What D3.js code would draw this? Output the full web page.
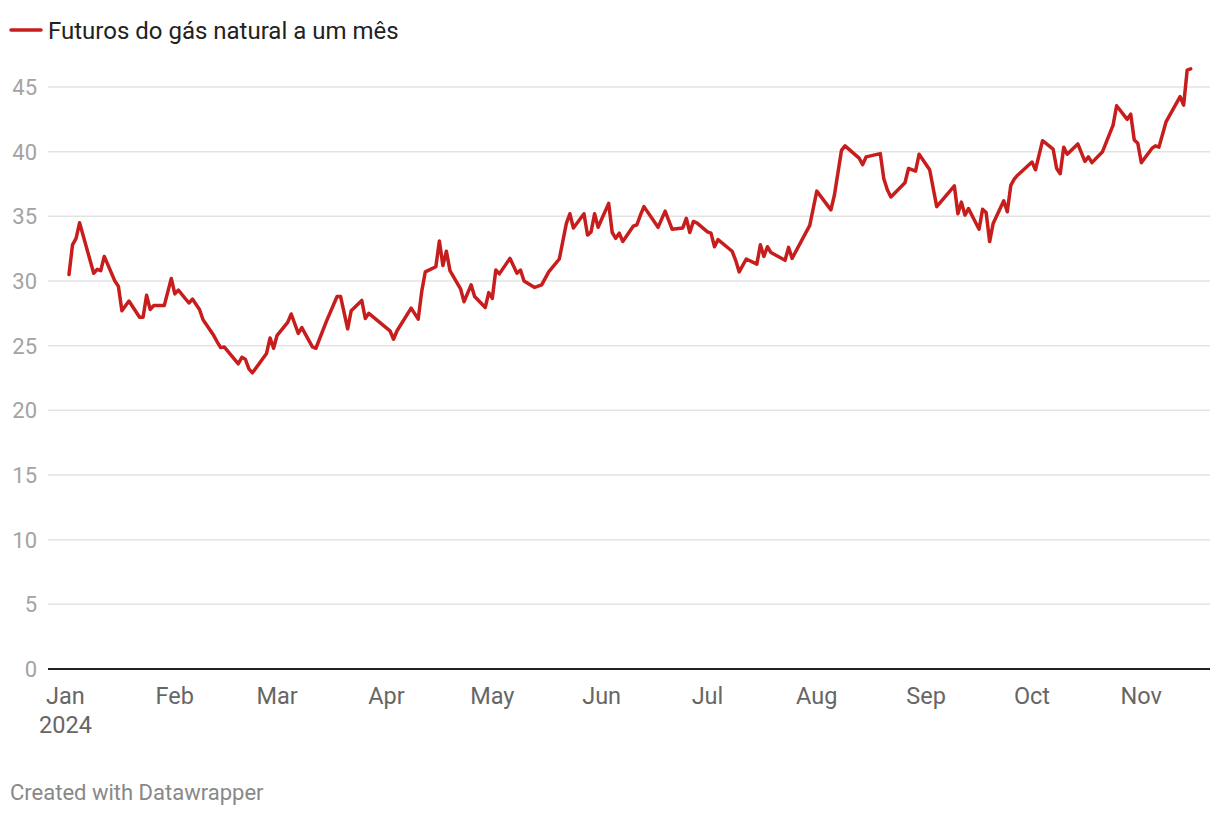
<!DOCTYPE html>
<html>
<head>
<meta charset="utf-8">
<script src="https://cdn.jsdelivr.net/npm/d3@7"></script>
<style>
  html, body { margin: 0; padding: 0; background: #fff; }
  svg { display: block; font-family: Roboto, "Noto Sans", sans-serif; }
</style>
</head>
<body>
<svg id="chart" width="1220" height="816"></svg>
<script>
const seriesName = "Futuros do gás natural a um mês";
const dates = [
  "2024-01-02","2024-01-03","2024-01-04","2024-01-05","2024-01-09","2024-01-10","2024-01-11","2024-01-12",
  "2024-01-15","2024-01-16","2024-01-17","2024-01-19","2024-01-22","2024-01-23","2024-01-24","2024-01-25",
  "2024-01-26","2024-01-29","2024-01-31","2024-02-01","2024-02-02","2024-02-05","2024-02-06","2024-02-08",
  "2024-02-09","2024-02-12","2024-02-13","2024-02-14","2024-02-15","2024-02-19","2024-02-20","2024-02-21",
  "2024-02-22","2024-02-23","2024-02-27","2024-02-28","2024-02-29","2024-03-01","2024-03-04","2024-03-05",
  "2024-03-07","2024-03-08","2024-03-11","2024-03-12","2024-03-15","2024-03-18","2024-03-19","2024-03-21",
  "2024-03-22","2024-03-25","2024-03-26","2024-03-27","2024-04-02","2024-04-03","2024-04-04","2024-04-08",
  "2024-04-10","2024-04-11","2024-04-12","2024-04-15","2024-04-16","2024-04-17","2024-04-18","2024-04-19",
  "2024-04-22","2024-04-23","2024-04-25","2024-04-26","2024-04-29","2024-04-30","2024-05-01","2024-05-02",
  "2024-05-03","2024-05-06","2024-05-08","2024-05-09","2024-05-10","2024-05-13","2024-05-15","2024-05-17",
  "2024-05-20","2024-05-22","2024-05-23","2024-05-24","2024-05-27","2024-05-28","2024-05-29","2024-05-30",
  "2024-05-31","2024-06-03","2024-06-04","2024-06-05","2024-06-06","2024-06-07","2024-06-10","2024-06-11",
  "2024-06-12","2024-06-13","2024-06-17","2024-06-19","2024-06-21","2024-06-24","2024-06-25","2024-06-26",
  "2024-06-27","2024-06-28","2024-07-01","2024-07-02","2024-07-03","2024-07-04","2024-07-08","2024-07-09",
  "2024-07-10","2024-07-12","2024-07-15","2024-07-16","2024-07-17","2024-07-18","2024-07-19","2024-07-23",
  "2024-07-24","2024-07-25","2024-07-30","2024-08-01","2024-08-05","2024-08-06","2024-08-08","2024-08-09",
  "2024-08-13","2024-08-14","2024-08-15","2024-08-19","2024-08-20","2024-08-21","2024-08-22","2024-08-26",
  "2024-08-27","2024-08-29","2024-08-30","2024-09-02","2024-09-04","2024-09-09","2024-09-10","2024-09-11",
  "2024-09-12","2024-09-13","2024-09-16","2024-09-17","2024-09-18","2024-09-19","2024-09-20","2024-09-23",
  "2024-09-24","2024-09-25","2024-09-26","2024-09-27","2024-10-01","2024-10-02","2024-10-04","2024-10-07",
  "2024-10-08","2024-10-09","2024-10-10","2024-10-11","2024-10-14","2024-10-16","2024-10-17","2024-10-18",
  "2024-10-21","2024-10-24","2024-10-25","2024-10-28","2024-10-29","2024-10-30","2024-10-31","2024-11-01",
  "2024-11-04","2024-11-05","2024-11-06","2024-11-08","2024-11-12","2024-11-13","2024-11-14","2024-11-15"
];
const values = [
  30.5,32.8,33.3,34.5,30.6,30.9,30.8,31.9,
  30.0,29.6,27.7,28.45,27.2,27.2,28.9,27.8,
  28.1,28.1,30.2,29.0,29.3,28.3,28.6,27.8,
  27.0,25.8,25.3,24.85,24.9,23.6,24.1,23.95,
  23.2,22.9,24.4,25.6,24.8,25.8,26.8,27.45,
  25.95,26.4,24.9,24.8,26.9,28.8,28.8,26.3,
  27.7,28.5,27.1,27.5,26.15,25.5,26.15,27.9,
  27.05,29.2,30.7,31.1,33.1,31.2,32.3,30.8,
  29.4,28.4,29.7,28.8,27.95,29.1,28.65,30.85,
  30.55,31.75,30.6,30.85,30.0,29.5,29.7,30.7,
  31.7,34.45,35.2,34.1,35.2,33.55,33.8,35.2,
  34.15,36.0,33.75,33.3,33.7,33.05,34.25,34.35,
  35.1,35.75,34.15,35.4,34.0,34.1,34.85,33.75,
  34.6,34.5,33.8,33.7,32.65,33.2,32.3,31.6,
  30.7,31.7,31.3,32.8,31.9,32.65,32.2,31.6,
  32.6,31.75,34.3,36.95,35.5,36.65,40.1,40.45,
  39.5,39.0,39.6,39.85,37.9,37.05,36.5,37.6,
  38.7,38.5,39.8,38.6,35.75,37.35,35.2,36.1,
  35.1,35.6,34.0,35.55,35.3,33.05,34.45,36.2,
  35.35,37.4,37.9,38.2,39.2,38.6,40.85,40.2,
  38.7,38.3,40.35,39.8,40.6,39.25,39.6,39.15,
  40.0,42.05,43.55,42.5,42.9,40.9,40.65,39.15,
  40.25,40.45,40.35,42.3,44.25,43.6,46.3,46.4
];
const yTicks = [0,5,10,15,20,25,30,35,40,45];
const monthLabels = ["Jan","Feb","Mar","Apr","May","Jun","Jul","Aug","Sep","Oct","Nov"];
const yearLabel = "2024";
const footer = "Created with Datawrapper";

const parse = d3.timeParse("%Y-%m-%d");
const data = dates.map((d, i) => ({ date: parse(d), value: values[i] }));

const svg = d3.select("#chart");
const plotLeft = 48, plotRight = 1210;

const x = d3.scaleTime()
  .domain(d3.extent(data, d => d.date))
  .range([69, 1190.7]);
const y = d3.scaleLinear().domain([0, 45]).range([669, 87]);

// gridlines
svg.append("g").selectAll("line")
  .data(yTicks.filter(t => t !== 0))
  .join("line")
  .attr("x1", plotLeft).attr("x2", plotRight)
  .attr("y1", d => y(d)).attr("y2", d => y(d))
  .attr("stroke", "#e3e3e3").attr("stroke-width", 1.5);

// y labels
svg.append("g").selectAll("text")
  .data(yTicks)
  .join("text")
  .attr("x", 37).attr("y", d => y(d))
  .attr("dy", "0.36em")
  .attr("text-anchor", "end")
  .attr("font-size", 22)
  .attr("fill", "#a3a3a3")
  .text(d => d);

// zero line
svg.append("line")
  .attr("x1", plotLeft).attr("x2", plotRight)
  .attr("y1", y(0)).attr("y2", y(0))
  .attr("stroke", "#222").attr("stroke-width", 2);

// x labels
const months = d3.timeMonth.range(new Date(2024, 0, 1), new Date(2024, 11, 1));
const xl = svg.append("g");
xl.selectAll("text.m")
  .data(months)
  .join("text")
  .attr("class", "m")
  .attr("x", d => x(d)).attr("y", 704)
  .attr("text-anchor", "middle")
  .attr("font-size", 23.5)
  .attr("fill", "#666")
  .text((d, i) => monthLabels[i]);
xl.append("text")
  .attr("x", x(months[0])).attr("y", 733)
  .attr("text-anchor", "middle")
  .attr("font-size", 23.5)
  .attr("fill", "#666")
  .text(yearLabel);

// line
const line = d3.line().x(d => x(d.date)).y(d => y(d.value));
svg.append("path")
  .datum(data)
  .attr("d", line)
  .attr("fill", "none")
  .attr("stroke", "#c71e1d")
  .attr("stroke-width", 3.5)
  .attr("stroke-linejoin", "round")
  .attr("stroke-linecap", "round");

// legend
svg.append("line")
  .attr("x1", 11).attr("x2", 41).attr("y1", 30).attr("y2", 30)
  .attr("stroke", "#c71e1d").attr("stroke-width", 3.5).attr("stroke-linecap", "round");
svg.append("text")
  .attr("x", 48).attr("y", 39)
  .attr("font-size", 24)
  .attr("fill", "#222")
  .text(seriesName);

// footer
svg.append("text")
  .attr("x", 10).attr("y", 800)
  .attr("font-size", 22)
  .attr("fill", "#888")
  .text(footer);
</script>
</body>
</html>
